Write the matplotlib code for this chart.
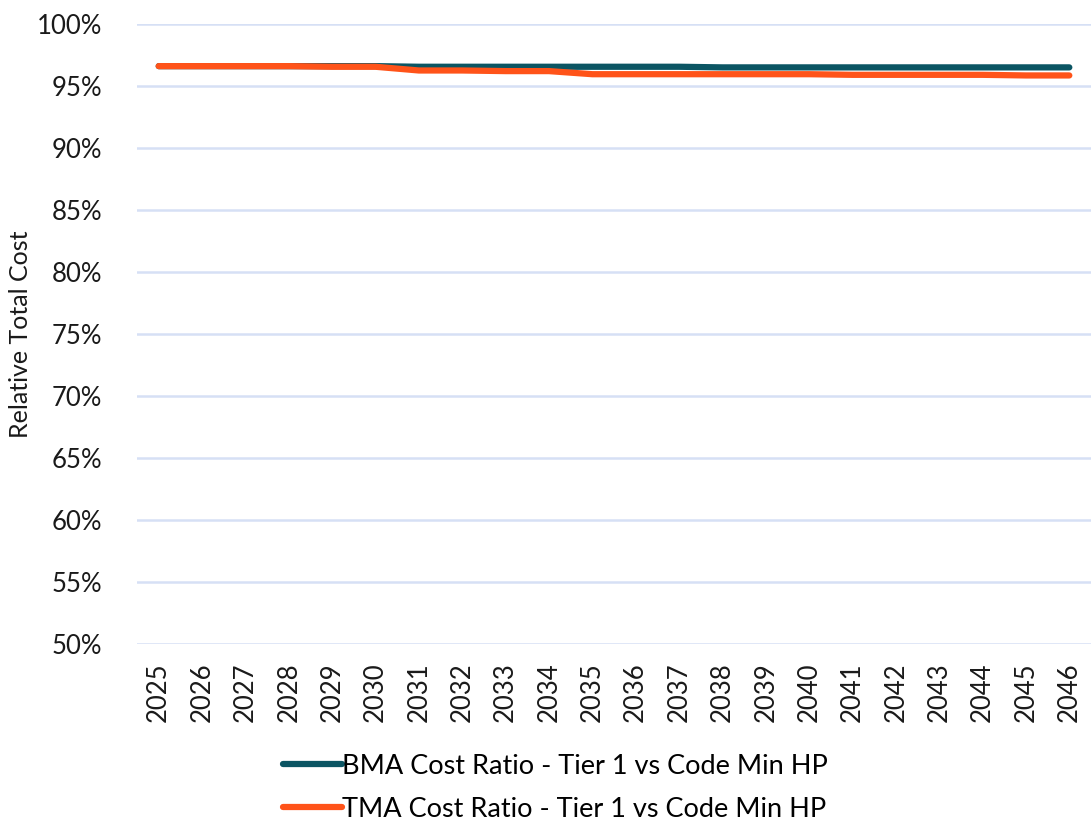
import matplotlib
matplotlib.use("Agg")
import matplotlib.pyplot as plt
from matplotlib.ticker import FuncFormatter

# データ
years = [str(y) for y in range(2025, 2047)]
bma_ratio = [96.6, 96.6, 96.6, 96.6, 96.6, 96.6, 96.55, 96.55, 96.55, 96.55, 96.55,
             96.55, 96.55, 96.5, 96.5, 96.5, 96.5, 96.5, 96.5, 96.5, 96.5, 96.5]
tma_ratio = [96.6, 96.6, 96.6, 96.6, 96.55, 96.55, 96.25, 96.25, 96.2, 96.2, 95.95,
             95.95, 95.95, 95.95, 95.95, 95.95, 95.9, 95.9, 95.9, 95.9, 95.85, 95.85]
labels = ["BMA Cost Ratio - Tier 1 vs Code Min HP", "TMA Cost Ratio - Tier 1 vs Code Min HP"]
colors = ["#0B5563", "#FF5319"]

plt.rcParams["font.family"] = ["Lato", "DejaVu Sans"]

fig = plt.figure(figsize=(10.91, 8.24), dpi=100)
ax = fig.add_axes([0.1256, 0.2184, 0.8744, 0.7525])

x = range(len(years))
ax.plot(x, bma_ratio, color=colors[0], lw=4.5, solid_capstyle="round", label=labels[0])
ax.plot(x, tma_ratio, color=colors[1], lw=4.5, solid_capstyle="round", label=labels[1])

ax.set_ylim(50, 100)
ax.set_yticks(range(50, 101, 5))
ax.yaxis.set_major_formatter(FuncFormatter(lambda v, p: f"{v:.0f}%"))
ax.set_xlim(-0.5, len(years) - 0.5)
ax.set_xticks(list(x))
ax.set_xticklabels(years, rotation=90)

ax.grid(axis="y", color="#D6E0F5", lw=1.8)
ax.set_axisbelow(True)
for s in ax.spines.values():
    s.set_visible(False)
ax.tick_params(length=0, labelsize=18.5, colors="#1a1a1a", pad=13)
ax.tick_params(axis="y", pad=25)
ax.set_ylabel("Relative Total Cost", fontsize=18, color="#1a1a1a")
ax.yaxis.set_label_coords(-0.110, 0.5)

fig.legend(loc="upper left", bbox_to_anchor=(0.259, 0.085), frameon=False,
           fontsize=19.5, handlelength=2.2, handletextpad=0.0, labelspacing=0.65,
           borderaxespad=0, borderpad=0)

fig.savefig("out.png", dpi=100)
